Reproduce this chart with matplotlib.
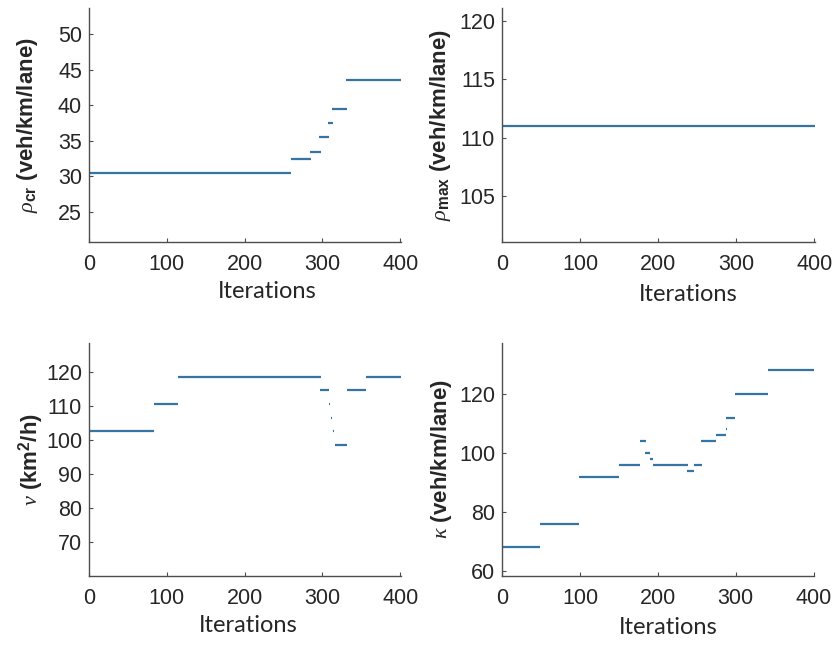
import matplotlib
matplotlib.use("Agg")
import matplotlib.pyplot as plt

plt.rcParams["font.family"] = ["Liberation Sans", "DejaVu Sans"]
plt.rcParams["mathtext.fontset"] = "custom"
plt.rcParams["mathtext.rm"] = "Liberation Sans:bold"
plt.rcParams["mathtext.bf"] = "Liberation Sans:bold"
plt.rcParams["mathtext.it"] = "Liberation Serif:italic"

# Piecewise-constant parameter histories: (start iteration, end iteration, value)
rho_cr_start = [0, 260, 284, 295, 307, 312, 330]
rho_cr_end = [260, 285, 298, 308, 313, 331, 401]
rho_cr_value = [30.5, 32.5, 33.5, 35.5, 37.5, 39.5, 43.5]

rho_max_start = [0]
rho_max_end = [401]
rho_max_value = [110.95]

nu_start = [0, 84, 114, 297, 308.5, 311.5, 314, 316, 332, 356]
nu_end = [84, 114.5, 297.5, 308, 309.5, 312.5, 315, 332, 356, 401]
nu_value = [102.5, 110.5, 118.5, 114.5, 110.5, 106.5, 102.5, 98.5, 114.5, 118.5]

kappa_start = [0, 49, 99, 150, 176.5, 184, 189.5, 194, 238, 246.5, 256, 275, 287.2, 287.5, 299, 341]
kappa_end = [49, 99, 150.5, 177, 185, 190, 194, 238.5, 246.7, 256.4, 275, 287, 288.2, 299, 341, 401]
kappa_value = [68, 76, 92, 96, 104, 100, 98, 96, 94, 96, 104, 106, 108, 112, 120, 128]

x_ticks = [0, 100, 200, 300, 400]

LINE = "#3675a3"
SPINE = "#4d4d4d"
TEXT = "#262626"

fig = plt.figure(figsize=(8.35, 6.46), dpi=100)

panels = [
    dict(rect=[0.1066, 0.6254, 0.3737, 0.3622], start=rho_cr_start, end=rho_cr_end,
         value=rho_cr_value, ylim=(20.8, 53.65), yticks=[25, 30, 35, 40, 45, 50],
         ylabel=r"$\rho_{\mathbf{cr}}$ (veh/km/lane)", ylab_x=28, xlab=(267, 292)),
    dict(rect=[0.6012, 0.6254, 0.3748, 0.3622], start=rho_max_start, end=rho_max_end,
         value=rho_max_value, ylim=(101.07, 121.08), yticks=[105, 110, 115, 120],
         ylabel=r"$\rho_{\mathbf{max}}$ (veh/km/lane)", ylab_x=440, xlab=(688, 295)),
    dict(rect=[0.1066, 0.1084, 0.3737, 0.3611], start=nu_start, end=nu_end,
         value=nu_value, ylim=(59.9, 128.5), yticks=[70, 80, 90, 100, 110, 120],
         ylabel=r"$\nu$ (km$^{\mathbf{2}}$/h)", ylab_x=31, xlab=(248, 625)),
    dict(rect=[0.6015, 0.1084, 0.3737, 0.3611], start=kappa_start, end=kappa_end,
         value=kappa_value, ylim=(58.3, 137.4), yticks=[60, 80, 100, 120],
         ylabel=r"$\kappa$ (veh/km/lane)", ylab_x=442, xlab=(668, 628)),
]

W, H = 835.0, 646.0
for p in panels:
    ax = fig.add_axes(p["rect"])
    ax.hlines(p["value"], p["start"], p["end"], colors=LINE, linewidth=1.6)
    ax.set_xlim(0, 401)
    ax.set_ylim(*p["ylim"])
    ax.set_xticks(x_ticks)
    ax.set_yticks(p["yticks"])
    for side in ("top", "right"):
        ax.spines[side].set_visible(False)
    for side in ("left", "bottom"):
        ax.spines[side].set_color(SPINE)
        ax.spines[side].set_linewidth(1.0)
    ax.tick_params(direction="in", length=3, width=0.8, color=SPINE,
                   labelsize=15.5, labelcolor=TEXT)
    ax.tick_params(axis="x", pad=9)
    ax.tick_params(axis="y", pad=5)
    ax.set_facecolor("white")
    # axis titles
    fig.text(p["xlab"][0] / W, 1 - p["xlab"][1] / H, "Iterations",
             family=["Lato", "DejaVu Sans"], fontsize=17, color=TEXT,
             ha="center", va="center")
    y_center = (p["rect"][1] + p["rect"][3] / 2)
    fig.text(p["ylab_x"] / W, y_center, p["ylabel"], rotation=90,
             fontsize=16, fontweight="bold", color=TEXT,
             ha="center", va="center")

fig.savefig("out.png", dpi=100, facecolor="white")
